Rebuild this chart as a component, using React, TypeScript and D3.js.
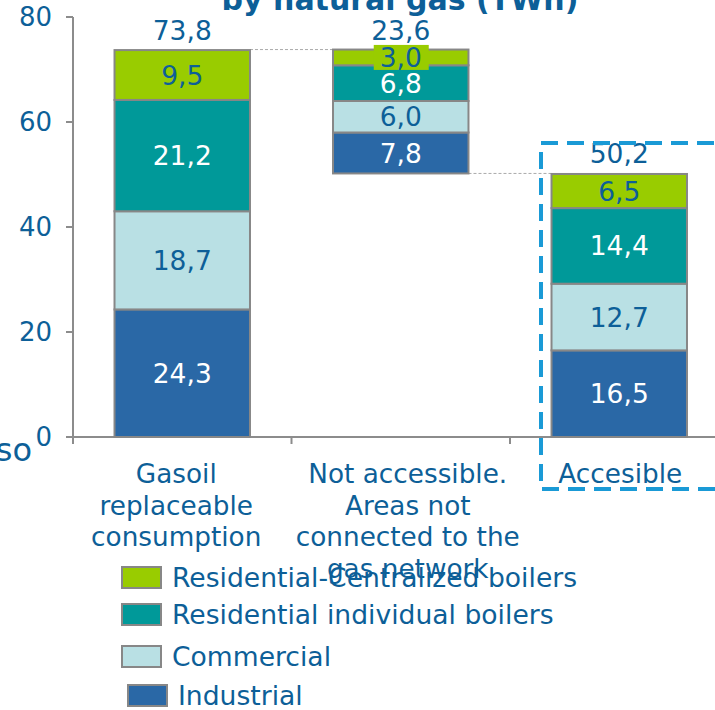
import React from "react";
import * as d3 from "d3";

const categories = ["Gasoil replaceable consumption", "Not accessible", "Accesible"];
const categoryLines = [
  ["Gasoil", "replaceable", "consumption"],
  ["Not accessible.", "Areas not", "connected to the", "gas network"],
  ["Accesible"],
];
const seriesNames = ["Industrial", "Commercial", "Residential individual boilers", "Residential-Centralized boilers"];
const industrial = [24.3, 7.8, 16.5];
const commercial = [18.7, 6.0, 12.7];
const resIndividual = [21.2, 6.8, 14.4];
const resCentralized = [9.5, 3.0, 6.5];
const totals = [73.8, 23.6, 50.2];
const bases = [0, 50.2, 0];
const yTicks = [0, 20, 40, 60, 80];

const colors = ["#2a68a6", "#b9e0e4", "#009999", "#99cc00"];
const labelColors = ["#ffffff", "#0d5f98", "#ffffff", "#0d5f98"];
const legendOrder = [3, 2, 1, 0];

const TEXT = "#0d5f98";
const FONT = "'DejaVu Sans', Verdana, sans-serif";
const fmt = (v: number) => v.toFixed(1).replace(".", ",");

export default function App() {
  const W = 715, H = 710;
  const y = d3.scaleLinear().domain([0, 80]).range([437, 17]);
  const x = d3.scaleBand<string>().domain(categories).range([73, 728.5]).paddingInner(0.38).paddingOuter(0.19);
  const bw = x.bandwidth();
  const series = [industrial, commercial, resIndividual, resCentralized];

  const bars = categories.map((c, i) => {
    let acc = bases[i];
    const segs = series.map((s, k) => {
      const y0 = acc;
      const y1 = acc + s[i];
      acc = y1;
      return { k, v: s[i], y0, y1 };
    });
    return { c, i, segs };
  });

  const catDx = [-6, 7, 1];
  const legendY = [577, 614, 656, 695];
  const legendX = [122, 122, 122, 128];

  return (
    <svg width={W} height={H} style={{ position: "absolute", left: 0, top: 0, fontFamily: FONT }}>
      <rect x={0} y={0} width={W} height={H} fill="#fff" />
      {/* cut-off title */}
      <text x={400} y={10} textAnchor="middle" fontSize={30} fontWeight="bold" fill={TEXT}>
        by natural gas (TWh)
      </text>
      {/* cut-off axis label */}
      <text x={32} y={461} textAnchor="end" fontSize={32} fill={TEXT}>so</text>

      {/* axes */}
      <line x1={73} x2={73} y1={y(80)} y2={y(0)} stroke="#8c8c8c" strokeWidth={2} />
      <line x1={66} x2={W} y1={y(0)} y2={y(0)} stroke="#8c8c8c" strokeWidth={2} />
      {yTicks.map((t) => (
        <g key={t}>
          <line x1={66} x2={73} y1={y(t)} y2={y(t)} stroke="#8c8c8c" strokeWidth={2} />
          <text x={52} y={y(t)} dy="0.36em" textAnchor="end" fontSize={26} fill={TEXT}>{t}</text>
        </g>
      ))}
      {[73, ...categories.map((c) => (x(c) as number) + bw + (x.step() - bw) / 2)].map((px, i) => (
        <line key={i} x1={px} x2={px} y1={y(0)} y2={y(0) + 7} stroke="#8c8c8c" strokeWidth={2} />
      ))}

      {/* connectors */}
      <line x1={(x(categories[0]) as number) + bw} x2={x(categories[1]) as number} y1={y(totals[0])} y2={y(totals[0])}
        stroke="#aaaaaa" strokeWidth={1} strokeDasharray="3,2" />
      <line x1={(x(categories[1]) as number) + bw} x2={x(categories[2]) as number} y1={y(bases[1])} y2={y(bases[1])}
        stroke="#aaaaaa" strokeWidth={1} strokeDasharray="3,2" />

      {/* bars */}
      {bars.map((b) => (
        <g key={b.c}>
          {b.segs.map((s) => (
            <rect key={s.k} x={x(b.c)} y={y(s.y1)} width={bw} height={y(s.y0) - y(s.y1)}
              fill={colors[s.k]} stroke="#878787" strokeWidth={2} />
          ))}
        </g>
      ))}
      {bars.map((b) => (
        <g key={b.c + "l"}>
          {b.segs.map((s) => {
            const cx = (x(b.c) as number) + bw / 2;
            const cy = (y(s.y0) + y(s.y1)) / 2;
            const small = y(s.y0) - y(s.y1) < 24;
            return (
              <g key={s.k}>
                {small && <rect x={cx - 27} y={cy - 12.5} width={55} height={25} fill={colors[s.k]} />}
                <text x={cx} y={cy} dy="0.36em" textAnchor="middle" fontSize={26.5} fill={labelColors[s.k]}>
                  {fmt(s.v)}
                </text>
              </g>
            );
          })}
          <text x={(x(b.c) as number) + bw / 2} y={y(bases[b.i] + totals[b.i]) - 10} textAnchor="middle"
            fontSize={26.5} fill={TEXT}>
            {fmt(totals[b.i])}
          </text>
        </g>
      ))}

      {/* category labels */}
      {categories.map((c, i) => (
        <text key={c} textAnchor="middle" fontSize={26.3} fill={TEXT}>
          {categoryLines[i].map((ln, j) => (
            <tspan key={j} x={(x(c) as number) + bw / 2 + catDx[i]} y={483 + j * 31.5}>{ln}</tspan>
          ))}
        </text>
      ))}

      {/* dashed highlight box */}
      <rect x={541} y={143} width={200} height={346} fill="none" stroke="#1a9ad6" strokeWidth={4}
        strokeDasharray="17,9" />

      {/* legend */}
      {legendOrder.map((k, j) => (
        <g key={k}>
          <rect x={legendX[j]} y={legendY[j] - 10} width={39} height={21} fill={colors[k]} stroke="#878787" strokeWidth={2} />
          <text x={legendX[j] + 50} y={legendY[j]} dy="0.36em" fontSize={26.6} fill={TEXT}>{seriesNames[k]}</text>
        </g>
      ))}
    </svg>
  );
}
